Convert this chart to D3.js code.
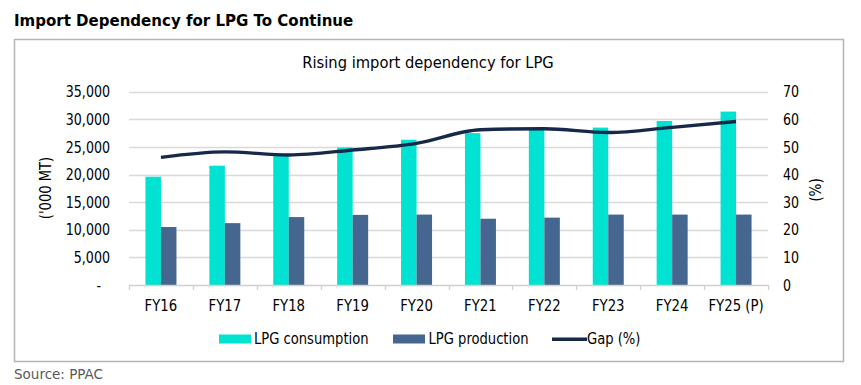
<!DOCTYPE html>
<html><head><meta charset="utf-8">
<script src="https://cdn.jsdelivr.net/npm/d3@7"></script>
<style>
body{margin:0;background:#fff;}
svg{display:block;}
text{font-family:"DejaVu Sans",Verdana,sans-serif;}
</style></head>
<body>
<svg id="c" width="861" height="385"></svg>
<script>
const categories = ["FY16","FY17","FY18","FY19","FY20","FY21","FY22","FY23","FY24","FY25 (P)"];
const consumption = [19600,21600,23400,24900,26300,27500,28100,28500,29700,31400];
const production = [10500,11200,12300,12700,12750,12000,12200,12750,12750,12750];
const gapPct = [46.2,48.2,47.1,48.9,51.3,56.2,56.6,55.2,57.1,59.2];
const leftTicks = [0,5000,10000,15000,20000,25000,30000,35000];
const rightTicks = [0,10,20,30,40,50,60,70];
const seriesNames = ["LPG consumption","LPG production","Gap (%)"];

const colCons = "#00e2d2", colProd = "#44668f", colLine = "#17294a";
const svg = d3.select("#c");

function fit(sel, k){
  sel.each(function(){
    const w = this.getComputedTextLength();
    this.setAttribute("textLength", (w*k).toFixed(2));
    this.setAttribute("lengthAdjust","spacingAndGlyphs");
  });
  return sel;
}

// titles
fit(svg.append("text").attr("x",14).attr("y",26).attr("font-size",16.5).attr("font-weight","bold")
  .attr("fill","#000").text("Import Dependency for LPG To Continue"), 0.91);
svg.append("rect").attr("x",14.5).attr("y",39.5).attr("width",829).attr("height",322)
  .attr("fill","none").attr("stroke","#b4b4b4").attr("stroke-width",1.5);
fit(svg.append("text").attr("x",428).attr("y",68.3).attr("text-anchor","middle").attr("font-size",16)
  .attr("fill","#000").text("Rising import dependency for LPG"), 0.92);
svg.append("text").attr("x",14).attr("y",379).attr("font-size",13.5).attr("fill","#595959").text("Source: PPAC");

const L = 129, R = 768, T = 91.7, B = 285;
const x = d3.scaleBand().domain(categories).range([L,R]);
const yL = d3.scaleLinear().domain([0,35000]).range([B,T]);
const yR = d3.scaleLinear().domain([0,70]).range([B,T]);

// gridlines
svg.append("g").selectAll("line").data(leftTicks.filter(d=>d>0)).join("line")
  .attr("x1",L).attr("x2",R).attr("y1",d=>Math.round(yL(d))+0.5).attr("y2",d=>Math.round(yL(d))+0.5)
  .attr("stroke","#d9d9d9").attr("stroke-width",1.3);

// left axis labels
const fmt = d3.format(",");
const gl = svg.append("g").attr("transform",`translate(${L-19},0)`)
  .call(d3.axisLeft(yL).tickValues(leftTicks).tickSize(0).tickPadding(0).tickFormat(d=>d===0?"-":fmt(d)));
gl.select(".domain").remove();
gl.selectAll("text").attr("font-size",16).attr("fill","#000").attr("dx",d=>d===0?-9:0);
fit(gl.selectAll("text"), 0.79);

const gr = svg.append("g").attr("transform",`translate(${R+15},0)`)
  .call(d3.axisRight(yR).tickValues(rightTicks).tickSize(0).tickPadding(0));
gr.select(".domain").remove();
gr.selectAll("text").attr("font-size",16).attr("fill","#000");
fit(gr.selectAll("text"), 0.79);

// axis titles
fit(svg.append("text").attr("transform","translate(51,188) rotate(-90)").attr("text-anchor","middle")
  .attr("font-size",16).attr("fill","#000").text("('000 MT)"), 0.82);
fit(svg.append("text").attr("transform","translate(821,190) rotate(-90)").attr("text-anchor","middle")
  .attr("font-size",16).attr("fill","#000").text("(%)"), 0.85);

// bars
const bw = 15.5;
const g = svg.append("g");
g.selectAll("rect.c").data(categories).join("rect").attr("class","c")
  .attr("x",(d)=>x(d)+x.bandwidth()/2-bw).attr("width",bw)
  .attr("y",(d,i)=>yL(consumption[i])).attr("height",(d,i)=>B-yL(consumption[i])).attr("fill",colCons);
g.selectAll("rect.p").data(categories).join("rect").attr("class","p")
  .attr("x",(d)=>x(d)+x.bandwidth()/2).attr("width",bw)
  .attr("y",(d,i)=>yL(production[i])).attr("height",(d,i)=>B-yL(production[i])).attr("fill",colProd);

// bottom axis
const gx = svg.append("g").attr("transform",`translate(0,${B})`)
  .call(d3.axisBottom(x).tickSize(0).tickPadding(15));
gx.select(".domain").attr("stroke","#d0d0d0").attr("stroke-width",1.3);
gx.selectAll("text").attr("font-size",16).attr("fill","#000");
fit(gx.selectAll("text"), 0.83);
const bounds = categories.map(d=>x(d)).concat([R]);
svg.append("g").selectAll("line").data(bounds).join("line")
  .attr("x1",d=>Math.round(d)+0.5).attr("x2",d=>Math.round(d)+0.5).attr("y1",B).attr("y2",B+5)
  .attr("stroke","#d0d0d0").attr("stroke-width",1.3);

// line
const line = d3.line().x((d,i)=>x(categories[i])+x.bandwidth()/2).y(d=>yR(d)).curve(d3.curveMonotoneX);
svg.append("path").datum(gapPct).attr("d",line).attr("fill","none").attr("stroke",colLine).attr("stroke-width",3.4);

// legend
const lg = svg.append("g");
lg.append("rect").attr("x",219).attr("y",334.5).attr("width",32).attr("height",9).attr("fill",colCons);
fit(lg.append("text").attr("x",254).attr("y",344.3).attr("font-size",16).attr("fill","#000").text(seriesNames[0]), 0.82);
lg.append("rect").attr("x",393).attr("y",334.5).attr("width",32).attr("height",9).attr("fill",colProd);
fit(lg.append("text").attr("x",428.5).attr("y",344.3).attr("font-size",16).attr("fill","#000").text(seriesNames[1]), 0.82);
lg.append("line").attr("x1",552).attr("x2",587).attr("y1",339.3).attr("y2",339.3).attr("stroke",colLine).attr("stroke-width",3.4);
fit(lg.append("text").attr("x",587).attr("y",344.3).attr("font-size",16).attr("fill","#000").text(seriesNames[2]), 0.82);
</script>
</body></html>
